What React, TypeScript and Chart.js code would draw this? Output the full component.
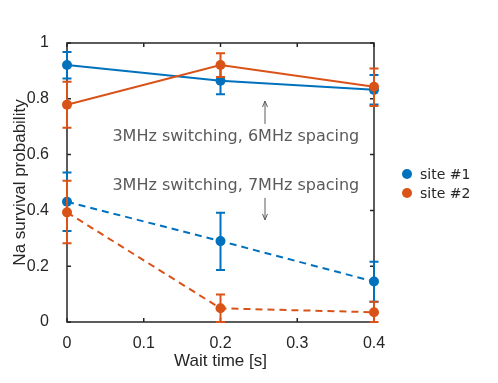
import React, { useEffect, useRef } from "react";
import { Chart, registerables } from "chart.js";
Chart.register(...registerables);

// ---- data ----
const waitTimes = [0, 0.2, 0.4];
const seriesNames = ["site #1", "site #2"];
const site1Spacing6 = [0.921, 0.865, 0.832];
const site1Spacing6Lo = [0.873, 0.816, 0.78];
const site1Spacing6Hi = [0.968, 0.92, 0.885];
const site2Spacing6 = [0.779, 0.921, 0.843];
const site2Spacing6Lo = [0.696, 0.878, 0.774];
const site2Spacing6Hi = [0.861, 0.963, 0.909];
const site1Spacing7 = [0.431, 0.29, 0.145];
const site1Spacing7Lo = [0.326, 0.186, 0.073];
const site1Spacing7Hi = [0.536, 0.392, 0.216];
const site2Spacing7 = [0.393, 0.049, 0.035];
const site2Spacing7Lo = [0.282, 0.0, 0.0];
const site2Spacing7Hi = [0.506, 0.099, 0.073];
const annotation6 = "3MHz switching, 6MHz spacing";
const annotation7 = "3MHz switching, 7MHz spacing";
const xTitle = "Wait time [s]";
const yTitle = "Na survival probability";

const BLUE = "#0072BD";
const ORANGE = "#D95319";
const AXIS = "#262626";
const NOTE = "#5a5a5a";

function mk(label: string, ys: number[], lo: number[], hi: number[], color: string, dashed: boolean, order: number) {
  return {
    label,
    data: waitTimes.map((x, i) => ({ x, y: ys[i] })),
    errLo: lo,
    errHi: hi,
    borderColor: color,
    backgroundColor: color,
    borderWidth: 2,
    borderDash: dashed ? [7, 5] : [],
    pointRadius: 5,
    pointHoverRadius: 5,
    pointBorderWidth: 0,
    pointBackgroundColor: color,
    showLine: true,
    tension: 0,
    clip: false as any,
    order,
  };
}

const errorBarPlugin = {
  id: "errorBars",
  beforeDatasetDraw(chart: any, args: any) {
    const ds = chart.data.datasets[args.index];
    if (!ds.errLo) return;
    const xs = chart.scales.x;
    const ys = chart.scales.y;
    const ctx = chart.ctx;
    ctx.save();
    ctx.strokeStyle = ds.borderColor;
    ctx.lineWidth = 2;
    ctx.setLineDash([]);
    ds.data.forEach((p: any, i: number) => {
      const px = xs.getPixelForValue(p.x);
      const top = ys.getPixelForValue(ds.errHi[i]);
      const bot = ys.getPixelForValue(ds.errLo[i]);
      ctx.beginPath();
      ctx.moveTo(px, top);
      ctx.lineTo(px, bot);
      ctx.moveTo(px - 4.5, top);
      ctx.lineTo(px + 4.5, top);
      ctx.moveTo(px - 4.5, bot);
      ctx.lineTo(px + 4.5, bot);
      ctx.stroke();
    });
    ctx.restore();
  },
};

const boxPlugin = {
  id: "box",
  beforeDatasetsDraw(chart: any) {
    const { ctx, chartArea: a } = chart;
    const xs = chart.scales.x;
    const ys = chart.scales.y;
    ctx.save();
    ctx.strokeStyle = AXIS;
    ctx.lineWidth = 1.5;
    ctx.strokeRect(a.left, a.top, a.right - a.left, a.bottom - a.top);
    ctx.beginPath();
    xs.ticks.forEach((t: any) => {
      const px = xs.getPixelForValue(t.value);
      ctx.moveTo(px, a.bottom);
      ctx.lineTo(px, a.bottom - 4);
      ctx.moveTo(px, a.top);
      ctx.lineTo(px, a.top + 4);
    });
    ys.ticks.forEach((t: any) => {
      const py = ys.getPixelForValue(t.value);
      ctx.moveTo(a.left, py);
      ctx.lineTo(a.left + 4, py);
      ctx.moveTo(a.right, py);
      ctx.lineTo(a.right - 4, py);
    });
    ctx.stroke();
    ctx.restore();
  },
};

function arrow(ctx: any, x: number, y0: number, y1: number) {
  ctx.beginPath();
  ctx.moveTo(x, y0);
  ctx.lineTo(x, y1);
  ctx.stroke();
  const dir = y1 < y0 ? 1 : -1;
  ctx.beginPath();
  ctx.moveTo(x - 2.5, y1 + dir * 6);
  ctx.lineTo(x, y1);
  ctx.lineTo(x + 2.5, y1 + dir * 6);
  ctx.stroke();
}

const notesPlugin = {
  id: "notes",
  afterDraw(chart: any) {
    const { ctx } = chart;
    const xs = chart.scales.x;
    const ys = chart.scales.y;
    ctx.save();
    ctx.fillStyle = NOTE;
    ctx.strokeStyle = NOTE;
    ctx.lineWidth = 1;
    ctx.font = "16px 'DejaVu Sans'";
    ctx.textAlign = "center";
    ctx.textBaseline = "middle";
    ctx.fillText(annotation6, xs.getPixelForValue(0.22), ys.getPixelForValue(0.663));
    ctx.fillText(annotation7, xs.getPixelForValue(0.22), ys.getPixelForValue(0.488));
    const ax = xs.getPixelForValue(0.258);
    arrow(ctx, ax, ys.getPixelForValue(0.71), ys.getPixelForValue(0.792));
    arrow(ctx, ax, ys.getPixelForValue(0.445), ys.getPixelForValue(0.366));
    // legend
    const colors = [BLUE, ORANGE];
    ctx.font = "14px 'DejaVu Sans'";
    ctx.textAlign = "left";
    seriesNames.forEach((name, i) => {
      const y = 174 + i * 19;
      ctx.fillStyle = colors[i];
      ctx.beginPath();
      ctx.arc(407, y, 5, 0, Math.PI * 2);
      ctx.fill();
      ctx.fillStyle = AXIS;
      ctx.fillText(name, 420, y + 1);
    });
    ctx.restore();
  },
};

const fmt = (v: any) => String(Number(Number(v).toFixed(2)));

export default function App() {
  const ref = useRef<HTMLCanvasElement>(null);
  useEffect(() => {
    if (!ref.current) return;
    const fam = "'Liberation Sans', Arial, sans-serif";
    const tickFont = { family: fam, size: 16 };
    const chart = new Chart(ref.current, {
      type: "scatter",
      data: {
        datasets: [
          mk(seriesNames[0], site1Spacing6, site1Spacing6Lo, site1Spacing6Hi, BLUE, false, 2),
          mk(seriesNames[1], site2Spacing6, site2Spacing6Lo, site2Spacing6Hi, ORANGE, false, 1),
          mk(seriesNames[0], site1Spacing7, site1Spacing7Lo, site1Spacing7Hi, BLUE, true, 2),
          mk(seriesNames[1], site2Spacing7, site2Spacing7Lo, site2Spacing7Hi, ORANGE, true, 0),
        ] as any,
      },
      options: {
        animation: false,
        responsive: false,
        devicePixelRatio: 1,
        layout: { padding: { left: 0, top: 43, right: 124, bottom: 0 } },
        plugins: { legend: { display: false }, tooltip: { enabled: false } },
        scales: {
          x: {
            type: "linear",
            min: 0,
            max: 0.4,
            grid: { display: false },
            border: { display: false },
            ticks: { stepSize: 0.1, font: tickFont, color: AXIS, padding: 4, maxRotation: 0, callback: fmt },
            title: { display: true, text: xTitle, font: { family: fam, size: 17 }, color: AXIS, padding: { top: 0, bottom: 11 } },
            afterFit: (s: any) => { s.height = 61; s.paddingLeft = 0; s.paddingRight = 0; },
          } as any,
          y: {
            type: "linear",
            min: 0,
            max: 1,
            grid: { display: false },
            border: { display: false },
            ticks: { stepSize: 0.2, font: tickFont, color: AXIS, padding: 10, callback: fmt },
            title: { display: true, text: yTitle, font: { family: fam, size: 17 }, color: AXIS, padding: { top: 10, bottom: 0 } },
            afterFit: (s: any) => { s.width = 67; s.paddingTop = 0; s.paddingBottom = 0; },
          } as any,
        },
      },
      plugins: [boxPlugin, errorBarPlugin, notesPlugin],
    });
    return () => chart.destroy();
  }, []);
  return (
    <div style={{ position: "absolute", left: 0, top: 0, width: 498, height: 383, background: "#fff" }}>
      <canvas ref={ref} width={498} height={383} style={{ width: 498, height: 383 }} />
    </div>
  );
}
